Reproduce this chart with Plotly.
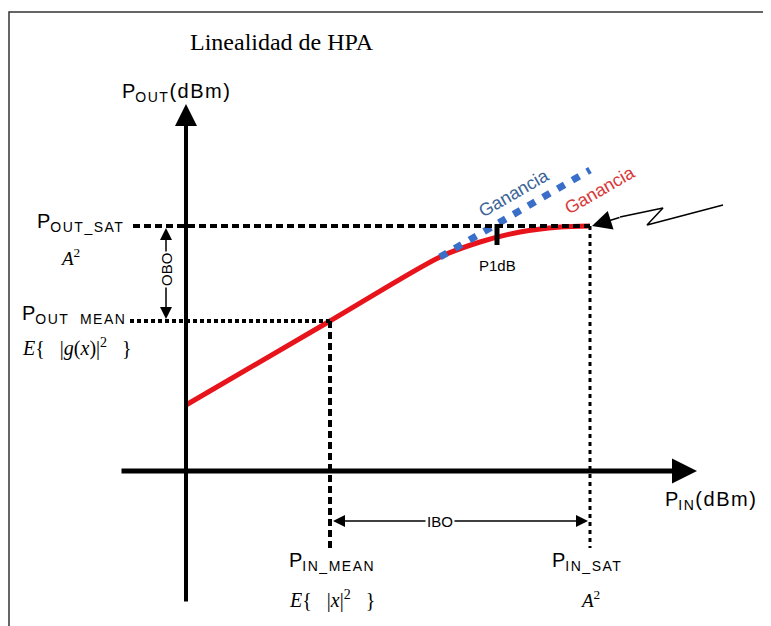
import plotly.graph_objects as go

W, H = 771, 626
OFF = 8  # page body margin of the html page

# ---- data (diagram coordinates, pixel-like units) ----
curve_x = [186, 330, 440, 480, 520, 560, 590]
curve_y = [405, 321, 257, 242, 232, 227, 226]
gain_x = [440, 590]
gain_y = [257, 170]
sat_out_y = 226
mean_out_y = 321
mean_in_x = 330
sat_in_x = 590
p1db_x = 497
bolt_x = [620, 663, 647, 723]
bolt_y = [217, 208, 225, 205]

SANS = "Liberation Sans, Arial, sans-serif"
SERIF = "Liberation Serif, Times New Roman, serif"

fig = go.Figure()

# red transfer curve
fig.add_trace(go.Scatter(x=curve_x, y=curve_y, mode="lines",
                         line=dict(color="#e8141c", width=5, shape="spline", smoothing=0.8),
                         hoverinfo="skip"))
# blue linear-gain extension
fig.add_trace(go.Scatter(x=gain_x, y=gain_y, mode="lines",
                         line=dict(color="#3a6fc9", width=7, dash="8px,9px"),
                         hoverinfo="skip"))
# dashed helper lines
fig.add_trace(go.Scatter(x=[133, sat_in_x], y=[sat_out_y, sat_out_y], mode="lines",
                         line=dict(color="black", width=4, dash="7px,4px"), hoverinfo="skip"))
fig.add_trace(go.Scatter(x=[130, mean_in_x], y=[mean_out_y, mean_out_y], mode="lines",
                         line=dict(color="black", width=4, dash="4px,3px"), hoverinfo="skip"))
fig.add_trace(go.Scatter(x=[mean_in_x, mean_in_x], y=[mean_out_y, 548], mode="lines",
                         line=dict(color="black", width=4, dash="7px,4px"), hoverinfo="skip"))
fig.add_trace(go.Scatter(x=[sat_in_x, sat_in_x], y=[sat_out_y, 548], mode="lines",
                         line=dict(color="black", width=3, dash="4px,4px"), hoverinfo="skip"))
# P1dB marker
fig.add_trace(go.Scatter(x=[p1db_x, p1db_x], y=[224, 245], mode="lines",
                         line=dict(color="black", width=5), hoverinfo="skip"))
# lightning line
fig.add_trace(go.Scatter(x=bolt_x, y=bolt_y, mode="lines",
                         line=dict(color="black", width=1.5), hoverinfo="skip"))

anns = []
def arrow(x, y, ax, ay, width=4, head=2, size=1.0):
    anns.append(dict(x=x, y=y, ax=ax, ay=ay, xref="x", yref="y", axref="x", ayref="y",
                     showarrow=True, arrowhead=head, arrowwidth=width, arrowsize=size,
                     arrowcolor="black", text=""))

# axes
arrow(186, 104, 186, 603, width=4, size=1.1)
arrow(697, 471, 120, 471, width=5, size=1.0)
# OBO double arrow
arrow(166, 228, 166, 270, width=1.5, size=1.6)
arrow(166, 319, 166, 270, width=1.5, size=1.6)
# IBO double arrow
arrow(333, 521, 440, 521, width=1.5, size=1.6)
arrow(588, 521, 440, 521, width=1.5, size=1.6)
# lightning arrow head
arrow(592, 226, 621, 217, width=1.5, size=2.6)

def text(x, y, t, size=17, font=SANS, color="black", angle=0, xanchor="center", bg=None):
    d = dict(x=x, y=y, xref="x", yref="y", text=t, showarrow=False,
             font=dict(family=font, size=size, color=color), textangle=angle,
             xanchor=xanchor, yanchor="middle")
    if bg:
        d["bgcolor"] = bg
    anns.append(d)

def plabel(sub, rest=""):
    return ("P<sub><span style='font-size:14px;letter-spacing:1.5px'>" + sub +
            "</span></sub><span style='letter-spacing:1.5px'>" + rest + "</span>")

text(282, 42, "Linealidad de HPA", size=24, font=SERIF)
text(176, 92, plabel("OUT", "(dBm)"), size=20)
text(711, 500, plabel("IN", "(dBm)"), size=20)
text(80, 222, plabel("OUT_SAT"), size=20)
text(70, 257, "<i>A</i><sup>2</sup>", size=19, font=SERIF)
text(74, 314, plabel("OUT  MEAN"), size=20)
text(77, 347, "<i>E</i>{   |<i>g</i>(<i>x</i>)|<sup>2</sup>   }", size=20, font=SERIF)
text(166, 270, "OBO", size=15, angle=-90, bg="white")
text(440, 521, "IBO", size=15, bg="white")
text(497, 265, "P1dB", size=15)
text(514, 193, "Ganancia", size=18, color="#3d6497", angle=-30)
text(600, 190, "Ganancia", size=18, color="#d83a3a", angle=-30)
text(332, 561, plabel("IN_MEAN"), size=20)
text(332, 599, "<i>E</i>{   |<i>x</i>|<sup>2</sup>   }", size=20, font=SERIF)
text(587, 561, plabel("IN_SAT"), size=20)
text(590, 599, "<i>A</i><sup>2</sup>", size=19, font=SERIF)

fig.update_layout(
    width=W - OFF, height=H - OFF, margin=dict(l=0, r=0, t=0, b=0),
    paper_bgcolor="white", plot_bgcolor="white", showlegend=False,
    xaxis=dict(range=[OFF, W], visible=False, fixedrange=True),
    yaxis=dict(range=[H, OFF], visible=False, fixedrange=True),
    annotations=anns,
    shapes=[dict(type="rect", xref="x", yref="y", x0=OFF + 1, y0=12, x1=W + 5, y1=H + 5,
                 line=dict(color="#333333", width=1.5), layer="below")],
)

fig.write_html("out.html")
